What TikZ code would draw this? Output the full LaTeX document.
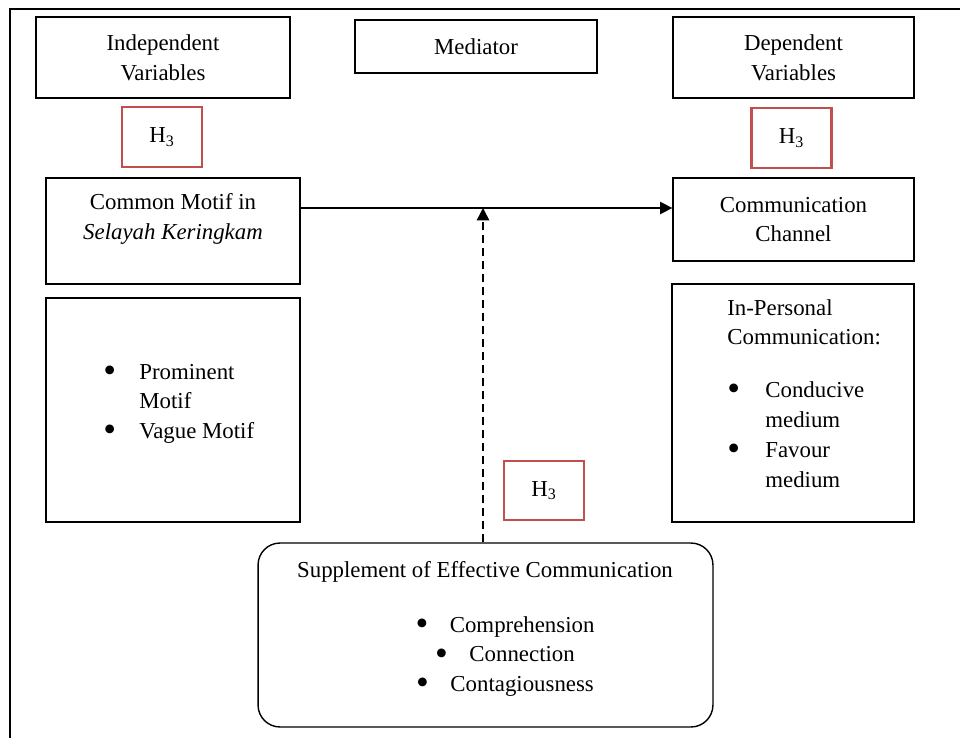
\documentclass[tikz,border=0pt]{standalone}
\usepackage{fontspec}
\setmainfont{Liberation Serif}
\usepackage{graphicx}
\usepackage{tikz}
\usetikzlibrary{arrows.meta,positioning}
\definecolor{hypored}{HTML}{C0504D}
\newcommand{\listdot}{\raisebox{-0.3ex}{\scalebox{1.6}{\textbullet}}}

\begin{document}
\begin{tikzpicture}[x=0.02cm, y=-0.02cm,
    box/.style={rectangle, draw=black, line width=0.8pt, align=center, font=\fontsize{13}{17}\selectfont, inner sep=2pt},
    hypo/.style={rectangle, draw=hypored, line width=1.5pt, minimum width=1.6cm, minimum height=1.2cm, font=\fontsize{13}{17}\selectfont},
    listtext/.style={anchor=base west, inner sep=0pt, font=\fontsize{13}{17}\selectfont},
    link/.style={line width=0.9pt, -{Triangle[length=7pt, width=7pt]}}
]
    \useasboundingbox (0,0) rectangle (960,738);
    % outer frame, cut off at right and bottom
    \draw[line width=0.8pt] (10,738) -- (10,9) -- (960,9);

    % headings
    \node[box, minimum width=5.08cm, minimum height=1.62cm] (indep) at (163,57.5) {Independent\\Variables};
    \node[box, minimum width=4.84cm, minimum height=1.06cm] (mediator) at (476,46.5) {Mediator};
    \node[box, minimum width=4.82cm, minimum height=1.62cm] (dep) at (793.5,57.5) {Dependent\\Variables};

    % hypotheses
    \node[hypo] (hleft) at (162,137) {H\textsubscript{3}};
    \node[hypo] (hright) at (791.5,138) {H\textsubscript{3}};
    \node[hypo, minimum height=1.18cm] (hmid) at (544,490.5) {H\textsubscript{3}};

    % variables
    \node[box, minimum width=5.08cm, minimum height=2.12cm] (motif) at (173,231) {Common Motif in\\\textit{Selayah Keringkam}\\\mbox{}};
    \node[box, minimum width=4.82cm, minimum height=1.66cm] (channel) at (793.5,219.5) {Communication\\Channel};

    \node[box, minimum width=5.08cm, minimum height=4.48cm] (motifbox) at (173,410) {};
    \node[listtext] (motiflist) at (103,379) {\begin{tabular}[t]{@{}p{0.72cm}@{}l@{}}
        \listdot & Prominent\\
                 & Motif\\
        \listdot & Vague Motif
    \end{tabular}};

    \node[box, minimum width=4.84cm, minimum height=4.76cm] (personalbox) at (793,403) {};
    \node[listtext] (personallist) at (727,315) {\begin{tabular}[t]{@{}p{0.76cm}@{}l@{}}
        \multicolumn{2}{@{}l@{}}{In-Personal}\\
        \multicolumn{2}{@{}l@{}}{Communication:}\\[0.46cm]
        \listdot & Conducive\\
                 & medium\\
        \listdot & Favour\\
                 & medium
    \end{tabular}};

    % mediator
    \node[box, rounded corners=0.44cm, minimum width=9.1cm, minimum height=3.68cm] (supp) at (485.5,635) {};
    \node[listtext, anchor=base] (supptitle) at (485,577) {Supplement of Effective Communication};
    \node[listtext, anchor=base] (supplist) at (505,632) {\begin{tabular}[t]{@{}c@{}}
        \listdot\hspace{0.43cm}Comprehension\\
        \listdot\hspace{0.43cm}Connection\\
        \listdot\hspace{0.43cm}Contagiousness
    \end{tabular}};

    % connectors
    \coordinate (junction) at (483,208);
    \draw[link] (motif.east |- junction) -- (channel.west |- junction);
    \draw[link, dash pattern=on 0.16cm off 0.1cm] (supp.north -| junction) -- (junction);
\end{tikzpicture}
\end{document}
